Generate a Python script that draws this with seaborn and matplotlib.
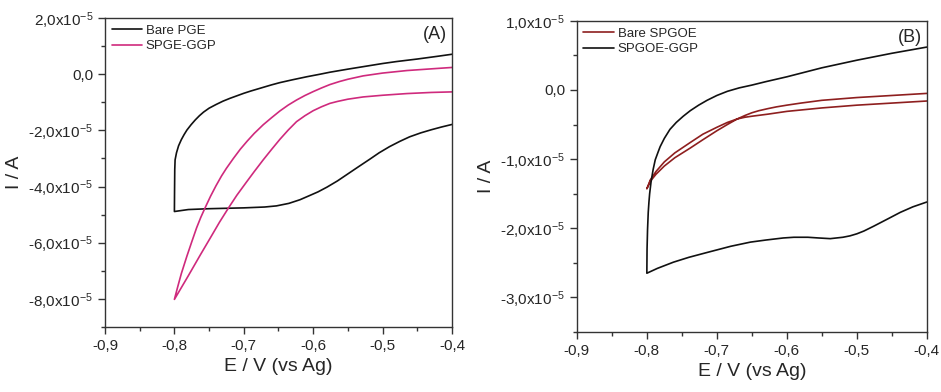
import matplotlib
matplotlib.use("Agg")
import matplotlib.pyplot as plt
import matplotlib.ticker as mticker
import numpy as np
import seaborn as sns

sns.set_style("white")
plt.rcParams["font.family"] = ["Liberation Sans", "DejaVu Sans"]
plt.rcParams["mathtext.default"] = "regular"

SCALE = 1e-5  # currents below are in units of 1e-5 A

# ---- panel A: bare PGE (forward sweep -0.4 -> -0.8, then reverse) ----
PGE_FWD_E = [-0.40, -0.415, -0.43, -0.445, -0.461, -0.475, -0.49, -0.505, -0.518,
             -0.535, -0.55, -0.565, -0.58, -0.593, -0.605, -0.619, -0.635, -0.653,
             -0.67, -0.70, -0.75, -0.78, -0.80]
PGE_FWD_I = [-1.79, -1.88, -1.98, -2.09, -2.23, -2.39, -2.58, -2.80, -3.02,
             -3.30, -3.55, -3.80, -4.02, -4.19, -4.32, -4.47, -4.60, -4.69,
             -4.73, -4.76, -4.79, -4.82, -4.89]
PGE_REV_E = [-0.7998, -0.7995, -0.799, -0.797, -0.794, -0.790, -0.786, -0.782, -0.776,
             -0.770, -0.764, -0.758, -0.75, -0.74, -0.73, -0.72, -0.71, -0.70,
             -0.69, -0.675, -0.66, -0.648, -0.63, -0.609, -0.59, -0.576, -0.55,
             -0.52, -0.50, -0.48, -0.45, -0.42, -0.40]
PGE_REV_I = [-4.20, -3.40, -3.05, -2.80, -2.55, -2.33, -2.15, -1.99, -1.80,
             -1.63, -1.48, -1.35, -1.21, -1.08, -0.96, -0.86, -0.77, -0.68,
             -0.60, -0.49, -0.38, -0.30, -0.20, -0.09, 0.00, 0.07, 0.18,
             0.30, 0.38, 0.45, 0.54, 0.64, 0.71]

# ---- panel A: SPGE-GGP ----
GGP_FWD_E = [-0.40, -0.43, -0.465, -0.50, -0.528, -0.55, -0.565, -0.576, -0.588,
             -0.60, -0.612, -0.624, -0.636, -0.648, -0.66, -0.672, -0.685, -0.697,
             -0.71, -0.722, -0.735, -0.748, -0.763, -0.78, -0.79, -0.80]
GGP_FWD_I = [-0.63, -0.65, -0.69, -0.75, -0.81, -0.89, -0.97, -1.04, -1.16,
             -1.30, -1.48, -1.69, -1.99, -2.32, -2.68, -3.05, -3.47, -3.87,
             -4.31, -4.76, -5.27, -5.82, -6.45, -7.18, -7.60, -8.02]
GGP_REV_E = [-0.795, -0.790, -0.782, -0.775, -0.768, -0.762, -0.756, -0.748, -0.740,
             -0.732, -0.725, -0.715, -0.705, -0.695, -0.685, -0.672, -0.660, -0.648,
             -0.636, -0.624, -0.612, -0.600, -0.588, -0.576, -0.562, -0.55, -0.528,
             -0.50, -0.465, -0.43, -0.40]
GGP_REV_I = [-7.55, -7.10, -6.48, -5.97, -5.47, -5.10, -4.77, -4.35, -3.97,
             -3.62, -3.35, -3.00, -2.67, -2.38, -2.11, -1.80, -1.55, -1.31,
             -1.10, -0.92, -0.76, -0.62, -0.49, -0.37, -0.26, -0.18, -0.06,
             0.04, 0.13, 0.19, 0.24]

# ---- panel B: bare SPGOE ----
SPGOE_FWD_E = [-0.40, -0.45, -0.50, -0.55, -0.58, -0.60, -0.615, -0.627, -0.64,
               -0.65, -0.66, -0.671, -0.685, -0.70, -0.72, -0.738, -0.76, -0.775,
               -0.787, -0.795, -0.80]
SPGOE_FWD_I = [-0.05, -0.08, -0.11, -0.15, -0.19, -0.22, -0.245, -0.27, -0.30,
               -0.33, -0.37, -0.42, -0.50, -0.59, -0.72, -0.84, -0.98, -1.10,
               -1.22, -1.32, -1.43]
SPGOE_REV_E = [-0.795, -0.787, -0.775, -0.76, -0.738, -0.72, -0.70, -0.685, -0.671,
               -0.66, -0.65, -0.627, -0.60, -0.55, -0.50, -0.45, -0.40]
SPGOE_REV_I = [-1.30, -1.18, -1.04, -0.91, -0.76, -0.64, -0.54, -0.47, -0.42,
               -0.395, -0.38, -0.35, -0.31, -0.26, -0.22, -0.19, -0.16]

# ---- panel B: SPGOE-GGP ----
SGGP_FWD_E = [-0.40, -0.42, -0.438, -0.455, -0.476, -0.49, -0.50, -0.51, -0.52,
              -0.538, -0.555, -0.57, -0.59, -0.605, -0.63, -0.652, -0.68, -0.714,
              -0.74, -0.762, -0.785, -0.80]
SGGP_FWD_I = [-1.62, -1.69, -1.77, -1.86, -1.97, -2.04, -2.08, -2.11, -2.13,
              -2.15, -2.14, -2.13, -2.13, -2.14, -2.17, -2.20, -2.26, -2.35,
              -2.42, -2.49, -2.58, -2.65]
SGGP_REV_E = [-0.7997, -0.799, -0.798, -0.797, -0.796, -0.794, -0.791, -0.788, -0.784,
              -0.781, -0.775, -0.767, -0.758, -0.748, -0.738, -0.726, -0.714, -0.70,
              -0.685, -0.668, -0.65, -0.63, -0.60, -0.55, -0.50, -0.45, -0.40]
SGGP_REV_I = [-2.30, -2.02, -1.77, -1.62, -1.50, -1.33, -1.15, -1.01, -0.90,
              -0.82, -0.70, -0.57, -0.47, -0.38, -0.30, -0.22, -0.15, -0.08,
              -0.02, 0.03, 0.07, 0.12, 0.19, 0.32, 0.43, 0.53, 0.62]

X_TICKS = [-0.9, -0.8, -0.7, -0.6, -0.5, -0.4]
A_YTICKS = [2.0, 0.0, -2.0, -4.0, -6.0, -8.0]
B_YTICKS = [1.0, 0.0, -1.0, -2.0, -3.0]

MAGENTA = "#cf2a7d"
DARK_RED = "#8e1f1f"
BLACK = "#111111"


def loop(fwd_e, fwd_i, rev_e, rev_i):
    e = np.array(fwd_e + rev_e)
    i = np.array(fwd_i + rev_i) * SCALE
    return e, i


def comma_x(v, pos):
    return f"{v:.1f}".replace(".", ",")


def comma_y(v, pos):
    u = v / SCALE
    if abs(u) < 1e-9:
        return "0,0"
    return f"{u:.1f}".replace(".", ",") + "x10$^{-5}$"


def style_axes(ax, yticks, ylim, yminor, tag):
    ax.set_xlim(-0.9, -0.4)
    ax.set_ylim(ylim[0] * SCALE, ylim[1] * SCALE)
    ax.set_xticks(X_TICKS)
    ax.set_yticks([t * SCALE for t in yticks])
    ax.xaxis.set_minor_locator(mticker.MultipleLocator(0.05))
    ax.yaxis.set_minor_locator(mticker.MultipleLocator(yminor * SCALE))
    ax.xaxis.set_major_formatter(mticker.FuncFormatter(comma_x))
    ax.yaxis.set_major_formatter(mticker.FuncFormatter(comma_y))
    ax.tick_params(which="major", direction="out", length=5, width=1, labelsize=11,
                   bottom=True, left=True, color="#333333")
    ax.tick_params(which="minor", direction="out", length=3, width=1,
                   bottom=True, left=True, color="#333333")
    for s in ax.spines.values():
        s.set_color("#333333")
        s.set_linewidth(1.0)
    ax.set_xlabel("E / V (vs Ag)", fontsize=14)
    ax.set_ylabel("I / A", fontsize=14)
    ax.legend(loc="upper left", frameon=False, fontsize=9.5, handlelength=2.3,
              handletextpad=0.3, borderaxespad=0.2, borderpad=0.3, labelspacing=0.25)
    ax.text(0.985, 0.975, tag, transform=ax.transAxes, ha="right", va="top", fontsize=13)


fig = plt.figure(figsize=(9.41, 3.92), dpi=100)

ax1 = fig.add_axes([0.1116, 0.166, 0.3687, 0.788])
e, i = loop(PGE_FWD_E, PGE_FWD_I, PGE_REV_E, PGE_REV_I)
sns.lineplot(x=e, y=i, sort=False, estimator=None, color=BLACK, lw=1.2,
             label="Bare PGE", ax=ax1)
e, i = loop(GGP_FWD_E, GGP_FWD_I, GGP_REV_E, GGP_REV_I)
sns.lineplot(x=e, y=i, sort=False, estimator=None, color=MAGENTA, lw=1.2,
             label="SPGE-GGP", ax=ax1)
style_axes(ax1, A_YTICKS, (-9.0, 2.0), 1.0, "(A)")

ax2 = fig.add_axes([0.613, 0.153, 0.372, 0.794])
e, i = loop(SPGOE_FWD_E, SPGOE_FWD_I, SPGOE_REV_E, SPGOE_REV_I)
sns.lineplot(x=e, y=i, sort=False, estimator=None, color=DARK_RED, lw=1.2,
             label="Bare SPGOE", ax=ax2)
e, i = loop(SGGP_FWD_E, SGGP_FWD_I, SGGP_REV_E, SGGP_REV_I)
sns.lineplot(x=e, y=i, sort=False, estimator=None, color=BLACK, lw=1.2,
             label="SPGOE-GGP", ax=ax2)
style_axes(ax2, B_YTICKS, (-3.5, 1.0), 0.5, "(B)")

fig.savefig("out.png", dpi=100)
plt.close(fig)
